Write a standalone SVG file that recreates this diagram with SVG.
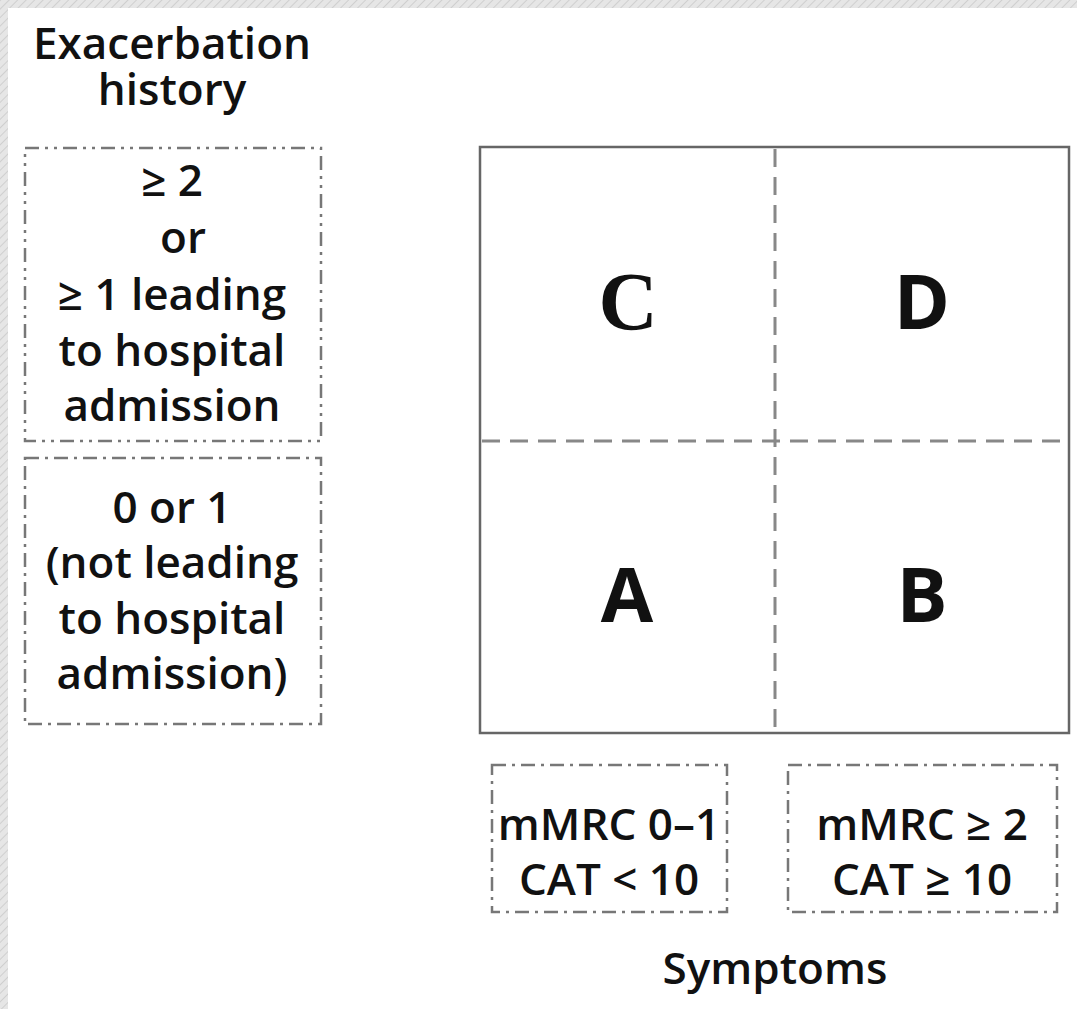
<svg xmlns="http://www.w3.org/2000/svg" width="1077" height="1009" viewBox="0 0 1077 1009">
<defs>
<pattern id="tex" width="6" height="6" patternUnits="userSpaceOnUse" patternTransform="rotate(45)">
<rect width="6" height="6" fill="#e6e6e6"/>
<line x1="0" y1="0" x2="0" y2="6" stroke="#cfcfcf" stroke-width="2"/>
</pattern>
<style>
.t{font-family:"Open Sans","Liberation Sans",sans-serif;font-weight:600;fill:#111;text-anchor:middle}
.lbl{font-size:44px}
.big{font-size:76px;font-weight:700}
.box{fill:none;stroke:#777;stroke-width:2.5;stroke-dasharray:14 6 3 6}
.box2{stroke-dasharray:14 6 3 6 3 6}
.grid{stroke:#888;stroke-width:3;stroke-dasharray:18 10;fill:none}
.frame{fill:none;stroke:#666;stroke-width:2.5}
</style>
</defs>
<rect width="1077" height="1009" fill="#fff"/>
<rect x="0" y="0" width="1077" height="8" fill="url(#tex)"/>
<rect x="0" y="0" width="8" height="1009" fill="url(#tex)"/>

<g id="title-exacerbation">
<text class="t lbl" x="172" y="59"><tspan x="172" y="59">Exacerbation</tspan><tspan x="172" y="105">history</tspan></text>
</g>

<g id="box-high">
<rect class="box box2" x="25" y="148" width="296" height="293"/>
<text class="t lbl" x="172" y="196">≥ 2</text>
<text class="t lbl" x="183" y="253">or</text>
<text class="t lbl" x="172" y="310">≥ 1 leading</text>
<text class="t lbl" x="172" y="366">to hospital</text>
<text class="t lbl" x="172" y="421">admission</text>
</g>

<g id="box-low">
<rect class="box" x="25" y="458" width="296" height="266"/>
<text class="t lbl" x="172" y="523">0 or 1</text>
<text class="t lbl" x="172" y="578">(not leading</text>
<text class="t lbl" x="172" y="634">to hospital</text>
<text class="t lbl" x="172" y="689">admission)</text>
</g>

<g id="matrix">
<rect class="frame" x="480" y="147" width="589" height="586"/>
</g>
<g id="connectors">
<line class="grid" x1="775" y1="149" x2="775" y2="731"/>
<line class="grid" x1="482" y1="441" x2="1067" y2="441"/>
</g>

<g id="quad-C"><text class="t big" x="628" y="329" style="font-family:'Liberation Serif',serif;font-size:82px">C</text></g>
<g id="quad-D"><text class="t big" x="922" y="329">D</text></g>
<g id="quad-A"><text class="t big" x="627" y="622">A</text></g>
<g id="quad-B"><text class="t big" x="922" y="622">B</text></g>

<g id="box-low-symptoms">
<rect class="box" x="492" y="765" width="235" height="147"/>
<text class="t lbl" x="609" y="840">mMRC 0–1</text>
<text class="t lbl" x="609" y="895">CAT &lt; 10</text>
</g>
<g id="box-high-symptoms">
<rect class="box" x="788" y="765" width="269" height="147"/>
<text class="t lbl" x="922" y="840">mMRC ≥ 2</text>
<text class="t lbl" x="922" y="895">CAT ≥ 10</text>
</g>

<g id="title-symptoms">
<text class="t lbl" x="775" y="984">Symptoms</text>
</g>
</svg>
